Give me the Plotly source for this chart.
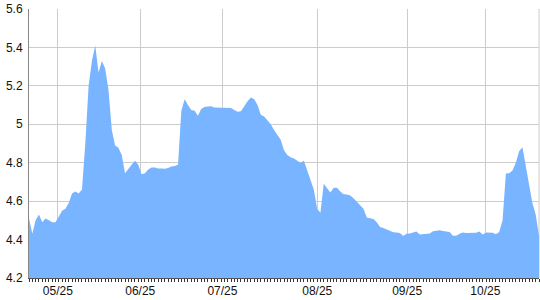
import plotly.graph_objects as go

values = [
    4.51, 4.43, 4.50, 4.53, 4.49, 4.51, 4.50, 4.49, 4.49, 4.52,
    4.55, 4.56, 4.59, 4.64, 4.65, 4.64, 4.66, 4.90, 5.20, 5.33,
    5.41, 5.27, 5.33, 5.29, 5.18, 4.97, 4.89, 4.878, 4.84, 4.745,
    4.77, 4.79, 4.81, 4.79, 4.74, 4.745, 4.765, 4.775, 4.775, 4.77,
    4.77, 4.768, 4.772, 4.78, 4.783, 4.79, 5.07, 5.13, 5.10, 5.075,
    5.07, 5.045, 5.08, 5.09, 5.093, 5.094, 5.087, 5.087, 5.088, 5.087,
    5.087, 5.085, 5.075, 5.065, 5.068, 5.095, 5.12, 5.14, 5.13, 5.10,
    5.05, 5.04, 5.02, 5.00, 4.97, 4.945, 4.92, 4.865, 4.84, 4.828,
    4.822, 4.81, 4.80, 4.81, 4.76, 4.70, 4.66, 4.56, 4.54, 4.69,
    4.665, 4.645, 4.67, 4.67, 4.65, 4.636, 4.635, 4.63, 4.615, 4.595,
    4.575, 4.56, 4.515, 4.51, 4.507, 4.49, 4.466, 4.46, 4.452, 4.444,
    4.438, 4.437, 4.434, 4.419, 4.43, 4.432, 4.436, 4.442, 4.427, 4.43,
    4.43, 4.432, 4.443, 4.446, 4.448, 4.445, 4.442, 4.44, 4.42, 4.42,
    4.43, 4.437, 4.434, 4.435, 4.435, 4.436, 4.442, 4.426, 4.437, 4.437,
    4.435, 4.428, 4.44, 4.50, 4.744, 4.745, 4.76, 4.80, 4.86, 4.88,
    4.78, 4.67, 4.59, 4.53, 4.42,
]
x_index = list(range(len(values)))

x_tick_pos = [8.7, 33.6, 58.4, 87.05, 114.2, 137.8]
x_tick_labels = ["05/25", "06/25", "07/25", "08/25", "09/25", "10/25"]
y_tick_vals = [4.2, 4.4, 4.6, 4.8, 5.0, 5.2, 5.4, 5.6]
y_tick_labels = ["4.2", "4.4", "4.6", "4.8", "5", "5.2", "5.4", "5.6"]

fig = go.Figure()
fig.add_trace(go.Scatter(
    x=x_index, y=values,
    mode="lines",
    line=dict(width=0, color="#78B4FF"),
    fill="tozeroy",
    fillcolor="#78B4FF",
    hoverinfo="skip",
))

fig.update_layout(
    width=540, height=300,
    margin=dict(l=29, r=1, t=9, b=22, pad=0),
    paper_bgcolor="white",
    plot_bgcolor="white",
    showlegend=False,
    font=dict(family="Liberation Sans, Arial, sans-serif", size=12, color="#111"),
    xaxis=dict(
        range=[0, len(values) - 1],
        tickmode="array",
        tickvals=x_tick_pos,
        ticktext=x_tick_labels,
        showgrid=True,
        gridcolor="#CCCCCC",
        gridwidth=1,
        showline=True,
        linecolor="#555555",
        linewidth=1,
        ticks="",
        zeroline=False,
        minor=dict(dtick=1, tick0=0, ticks="outside", ticklen=3,
                   tickcolor="#333333", tickwidth=1, showgrid=False),
        ticklabelstandoff=2,
        fixedrange=True,
    ),
    yaxis=dict(
        range=[4.2, 5.6],
        tickmode="array",
        tickvals=y_tick_vals,
        ticktext=y_tick_labels,
        showgrid=True,
        gridcolor="#CCCCCC",
        gridwidth=1,
        showline=True,
        linecolor="#888888",
        linewidth=1,
        ticks="",
        zeroline=False,
        ticklabelstandoff=3,
        fixedrange=True,
    ),
    shapes=[dict(type="line", xref="paper", yref="paper", x0=1, x1=1, y0=0, y1=1,
                 line=dict(color="#CCCCCC", width=1), layer="below")],
)

fig.write_html("out.html", config={"displayModeBar": False})
